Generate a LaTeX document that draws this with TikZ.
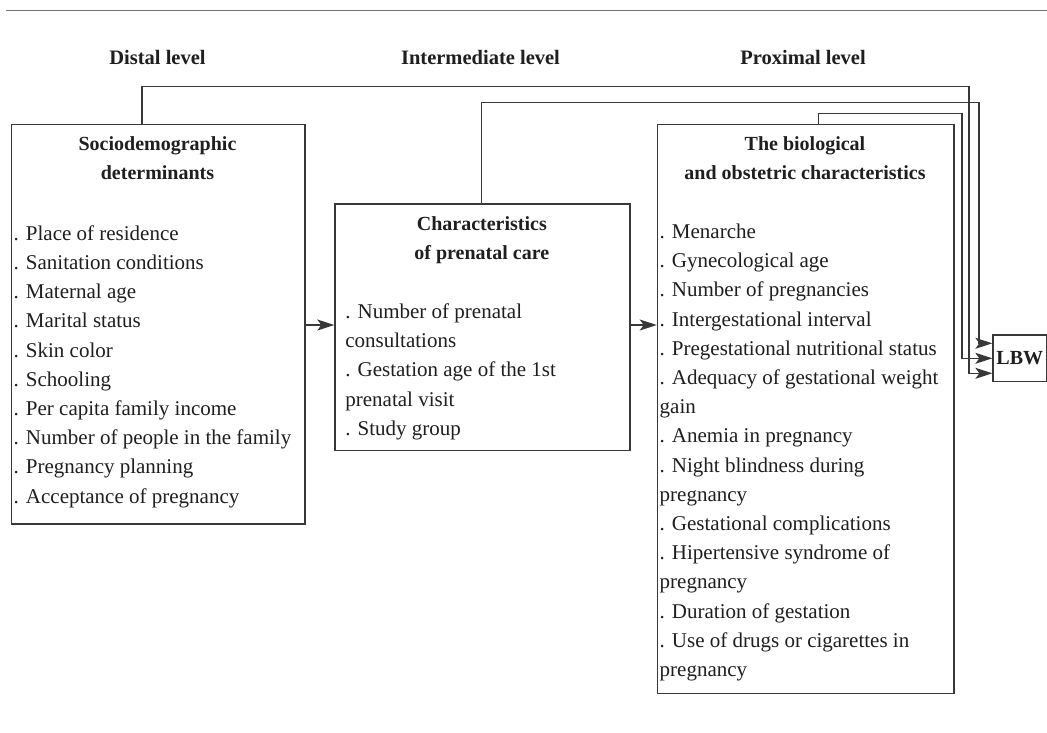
\documentclass[tikz,border=0pt]{standalone}
\usepackage{fontspec}
\setmainfont{Liberation Serif}
\usetikzlibrary{arrows.meta}
\definecolor{linec}{gray}{0.22}
\definecolor{rulec}{gray}{0.45}
\definecolor{txt}{gray}{0.12}
\begin{document}
\begin{tikzpicture}[x=1pt,y=-1pt,
  boxn/.style={draw=linec, line width=1.3pt, inner sep=0pt, anchor=north west},
  items/.style={anchor=north west, inner sep=0pt, align=left, text=txt, font=\fontsize{21}{29.2}\selectfont},
  ttl/.style={anchor=north, inner sep=0pt, align=center, text=txt, font=\bfseries\fontsize{20}{29.5}\selectfont},
  lvl/.style={anchor=base, inner sep=0pt, text=txt, font=\bfseries\fontsize{20.5}{24}\selectfont},
  conn/.style={draw=linec, line width=1.3pt},
  arr/.style={conn, -{Stealth[length=17pt,width=11pt,inset=4pt]}}]
\useasboundingbox (0,0) rectangle (1047,732);
\fill[white] (0,0) rectangle (1047,732);
% top rule
\coordinate (r1) at (6,10.5);
\coordinate (r2) at (1047,10.5);
\draw[draw=rulec, line width=1.7pt] (r1) -- (r2);
% level labels
\node[lvl] (ldist) at (157.5,64.5) {Distal level};
\node[lvl] (lint) at (480.5,64.5) {Intermediate level};
\node[lvl] (lprox) at (803,64.5) {Proximal level};
% boxes
\node[boxn, minimum width=293.6pt, minimum height=399.3pt] (soc) at (10.7,124) {};
\node[boxn, minimum width=295pt, minimum height=246.7pt] (mid) at (334.3,203.3) {};
\node[boxn, minimum width=296.6pt, minimum height=569pt] (bio) at (656.7,124) {};
\node[draw=linec, line width=1.3pt, inner sep=0pt, minimum width=53.5pt, minimum height=46.7pt, text=txt, font=\bfseries\fontsize{20}{24}\selectfont] (lbw) at (1019.75,358.3) {LBW};
% titles
\node[ttl] (socT) at (157.5,129.4) {\strut Sociodemographic\\determinants};
\node[ttl] (midT) at (481.8,209.4) {\strut Characteristics\\of prenatal care};
\node[ttl] (bioT) at (805,129.4) {\strut The biological\\and obstetric characteristics};
% items
\node[items] (socL) at (13.5,219.6) {\strut . Place of residence\\. Sanitation conditions\\. Maternal age\\. Marital status\\. Skin color\\. Schooling\\. Per capita family income\\. Number of people in the family\\. Pregnancy planning\\. Acceptance of pregnancy};
\node[items] (midL) at (345.2,297.9) {\strut . Number of prenatal\\consultations\\. Gestation age of the 1st\\prenatal visit\\. Study group};
\node[items] (bioL) at (659.5,217.9) {\strut . Menarche\\. Gynecological age\\. Number of pregnancies\\. Intergestational interval\\. Pregestational nutritional status\\. Adequacy of gestational weight\\gain\\. Anemia in pregnancy\\. Night blindness during\\pregnancy\\. Gestational complications\\. Hipertensive syndrome of\\pregnancy\\. Duration of gestation\\. Use of drugs or cigarettes in\\pregnancy};
% connectors
\coordinate (dTop) at (969,86.7);
\coordinate (iTop) at (979,102.7);
\coordinate (pTop) at (962,113.3);
\draw[arr] (soc.east |- 0,325) -- (mid.west |- 0,325);
\draw[arr] (mid.east |- 0,325) -- (bio.west |- 0,325);
\draw[arr] ([xshift=131.3pt]soc.north west) |- (dTop) |- ([yshift=-15pt]lbw.west);
\draw[arr] (mid.north -| 481.5,0) |- (iTop) |- ([yshift=15pt]lbw.west);
\draw[arr] ([xshift=161.8pt]bio.north west) |- (pTop) |- (lbw.west);
\end{tikzpicture}
\end{document}
